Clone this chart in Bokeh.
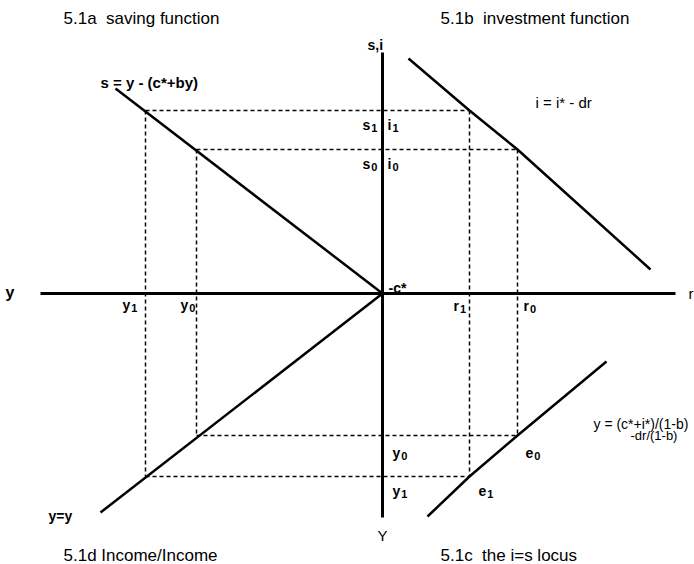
from bokeh.plotting import figure
from bokeh.models import Range1d, Label
from bokeh.embed import file_html
from bokeh.resources import INLINE
from bokeh.core.properties import value

# ---- data (chart units; origin at the axes crossing) ----
income = [186, 237]          # y0, y1 (drawn leftwards)
saving = [144, 183]          # s0, s1 (= i0, i1)
rate = [135, 87]             # r0, r1
income_low = [142, 183]      # y0, y1 on the lower axis (drawn downwards)

sav_y = [0, 267]             # saving function  s = y - (c*+by)
sav_s = [0, 205]
inv_r = [26, 87, 135, 268]   # investment function i = i* - dr
inv_i = [235, 183, 144, 24]
yy_h = [0, 282]              # 45-degree line y = y
yy_v = [0, 219]
loc_r = [45, 87, 135, 224]   # i=s locus
loc_y = [223, 183, 142, 68]

h_axis = [-342, 293]
v_axis = [241, -224]

titles = ["5.1a\u00a0\u00a0saving function",
          "5.1b\u00a0\u00a0investment function",
          "5.1c\u00a0\u00a0the i=s locus",
          "5.1d Income/Income"]

FONT = "Liberation Sans"

p = figure(width=694, height=564, output_backend="svg", toolbar_location=None,
           x_range=Range1d(-382, 312), y_range=Range1d(-271, 293),
           min_border=0)
p.axis.visible = False
p.grid.visible = False
p.outline_line_color = None
p.background_fill_color = "white"

# axes
p.line(h_axis, [0, 0], line_color="black", line_width=3)
p.line([0, 0], v_axis, line_color="black", line_width=3)

# function lines
p.line([-v for v in sav_y], sav_s, line_color="black", line_width=2.5)
p.line(inv_r, inv_i, line_color="black", line_width=2.5)
p.line([-v for v in yy_h], [-v for v in yy_v], line_color="black", line_width=2.5)
p.line(loc_r, [-v for v in loc_y], line_color="black", line_width=2.5)

# dotted construction lines
xs, ys = [], []
for k in range(2):
    xs += [[-income[k], -income[k]], [rate[k], rate[k]],
           [-income[k], rate[k]], [-income[k], rate[k]]]
    ys += [[saving[k], -income_low[k]], [saving[k], -income_low[k]],
           [saving[k], saving[k]], [-income_low[k], -income_low[k]]]
p.multi_line(xs, ys, line_color="black", line_width=1.5, line_dash="4 3")


def txt(x, y, s, dx=0, dy=0, size=14, style="bold"):
    p.text([x], [y], text=[s], x_offset=dx, y_offset=dy,
           text_font=value(FONT), text_font_size=f"{size}px",
           text_font_style=style, text_color="black",
           text_align="left", text_baseline="alphabetic")


WIDTH = {"s": 0.56, "i": 0.28, "r": 0.39, "y": 0.56, "e": 0.56}


def sub(x, y, s, n, dx, dy, size=14):
    txt(x, y, s, dx, dy, size)
    txt(x, y, n, dx + WIDTH[s] * size + 1, dy + 3, size - 3)


# labels with subscripts
sub(0, saving[1], "s", "1", -20, 14)
sub(0, saving[1], "i", "1", 5, 14)
sub(0, saving[0], "s", "0", -20, 14)
sub(0, saving[0], "i", "0", 5, 14)
sub(rate[1], 0, "r", "1", -16, 12)
sub(rate[0], 0, "r", "0", 6, 12)
sub(-income[1], 0, "y", "1", -23, 11)
sub(-income[0], 0, "y", "0", -16, 11)
sub(0, -income_low[0], "y", "0", 10, 17)
sub(0, -income_low[1], "y", "1", 10, 14)
sub(rate[0], -income_low[0], "e", "0", 8, 17)
sub(rate[1], -income_low[1], "e", "1", 9, 14)

# other labels
txt(0, 0, "-c*", 6, -6)
txt(h_axis[0], 0, "y", -35, -1, size=16)
txt(h_axis[1], 0, "r", 13, 0, size=15, style="normal")
txt(0, v_axis[0], "s,i", -15, -8)
txt(0, v_axis[1], "Y", -5, 18, size=15, style="normal")
txt(-sav_y[1], sav_s[1], "s = y - (c*+by)", -15, -6, size=15)
txt(inv_r[0], inv_i[0], "i = i* - dr", 127, 44, size=15, style="normal")
txt(-yy_h[1], -yy_v[1], "y=y", -52, 3)
txt(loc_r[-1], -loc_y[-1], "y = (c*+i*)/(1-b)", -13, 62, size=14, style="normal")
txt(loc_r[-1], -loc_y[-1], "-dr/(1-b)", 24, 74, size=13, style="normal")

# panel titles
for x, y, s in [(63, 546, titles[0]), (440, 546, titles[1]),
                (440, 9, titles[2]), (63, 9, titles[3])]:
    p.add_layout(Label(x=x, y=y, x_units="screen", y_units="screen", text=s,
                       text_font=FONT, text_font_size="17px",
                       text_color="black", text_baseline="alphabetic"))

open("out.html", "w").write(file_html(p, INLINE))
